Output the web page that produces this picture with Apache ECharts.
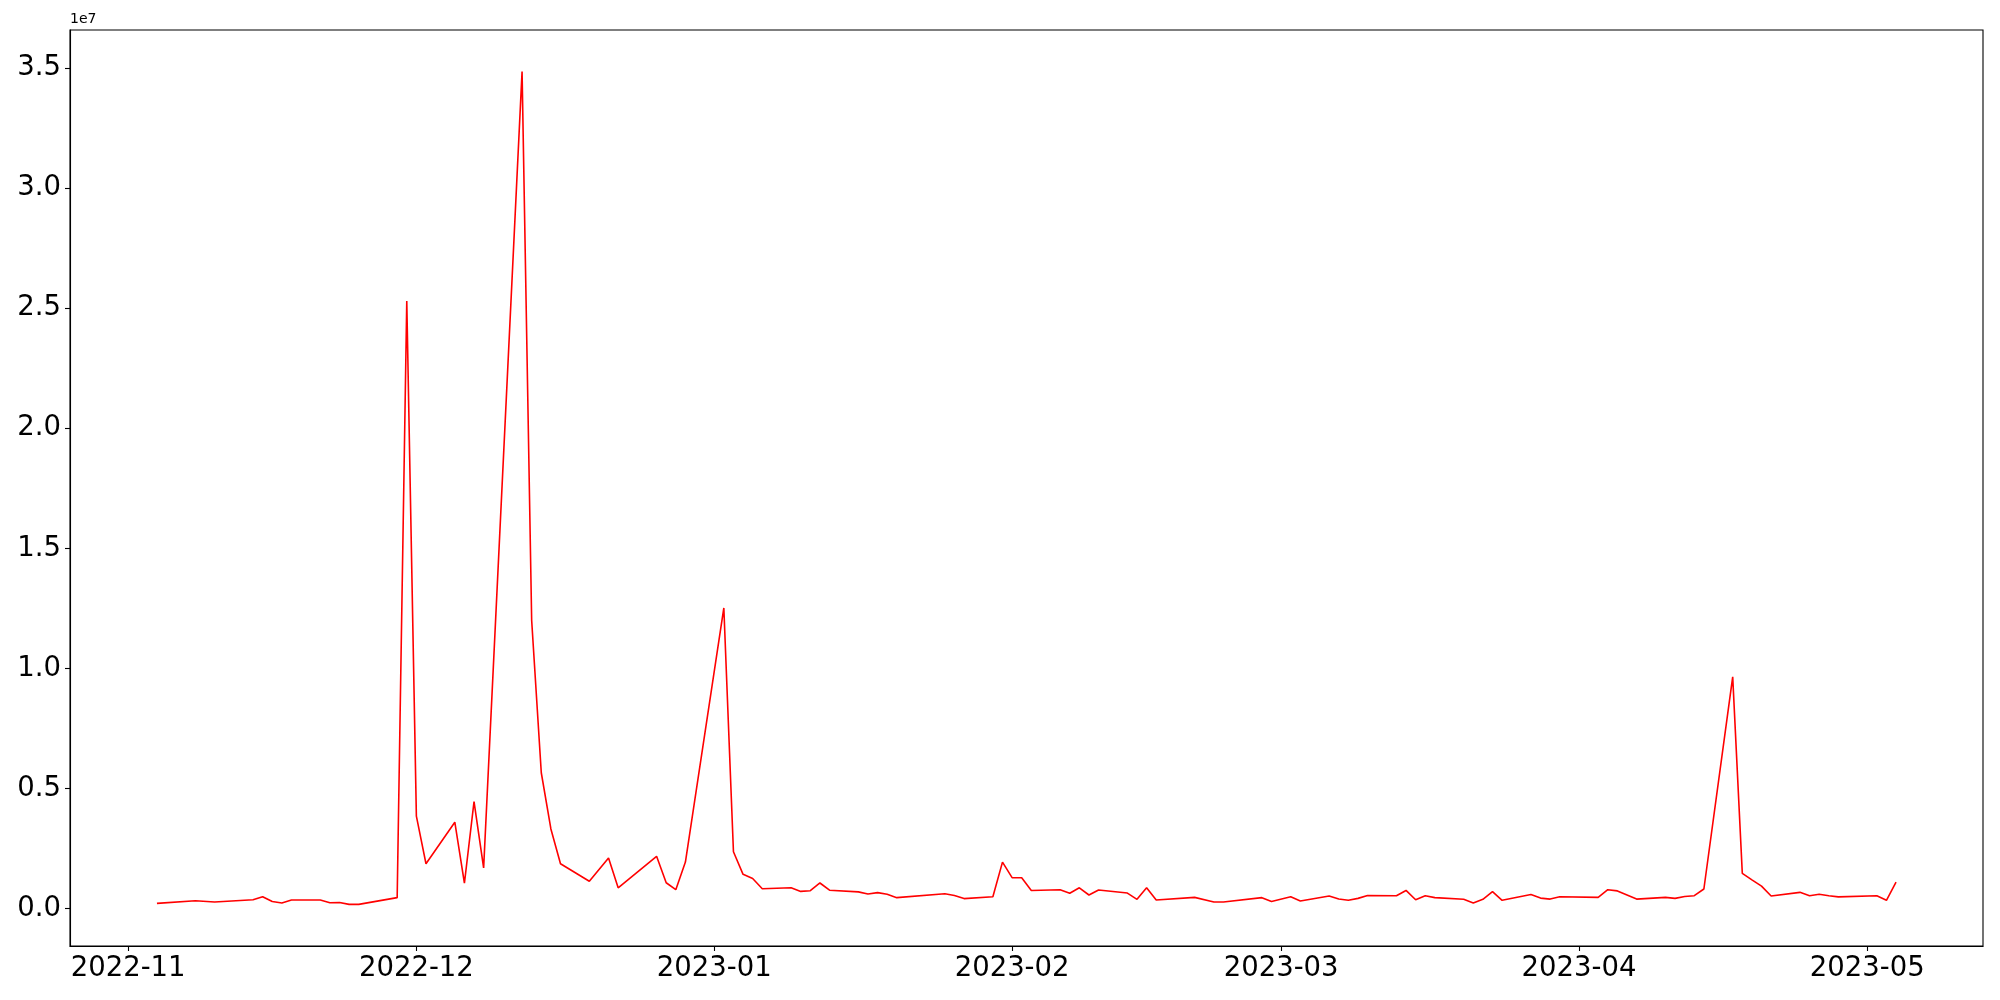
<!DOCTYPE html>
<html><head><meta charset="utf-8">
<script src="https://cdn.jsdelivr.net/npm/echarts@6/dist/echarts.min.js"></script>
<style>html,body{margin:0;padding:0;background:#fff}#c{width:2000px;height:1000px}</style>
</head><body><div id="c"></div>
<script>
const dates = [
'2022-11-04','2022-11-08','2022-11-10','2022-11-14','2022-11-15','2022-11-16','2022-11-17','2022-11-18',
'2022-11-21','2022-11-22','2022-11-23','2022-11-24','2022-11-25','2022-11-29','2022-11-30',
'2022-12-01','2022-12-02','2022-12-05','2022-12-06','2022-12-07','2022-12-08','2022-12-12','2022-12-13',
'2022-12-14','2022-12-15','2022-12-16','2022-12-19','2022-12-21','2022-12-22','2022-12-26','2022-12-27',
'2022-12-28','2022-12-29',
'2023-01-02','2023-01-03','2023-01-04','2023-01-05','2023-01-06','2023-01-09','2023-01-10','2023-01-11',
'2023-01-12','2023-01-13','2023-01-16','2023-01-17','2023-01-18','2023-01-19','2023-01-20','2023-01-25',
'2023-01-26','2023-01-27','2023-01-30','2023-01-31',
'2023-02-01','2023-02-02','2023-02-03','2023-02-06','2023-02-07','2023-02-08','2023-02-09','2023-02-10',
'2023-02-13','2023-02-14','2023-02-15','2023-02-16','2023-02-20','2023-02-22','2023-02-23','2023-02-27',
'2023-02-28',
'2023-03-02','2023-03-03','2023-03-06','2023-03-07','2023-03-08','2023-03-09','2023-03-10','2023-03-13',
'2023-03-14','2023-03-15','2023-03-16','2023-03-17','2023-03-20','2023-03-21','2023-03-22','2023-03-23',
'2023-03-24','2023-03-27','2023-03-28','2023-03-29','2023-03-30',
'2023-04-03','2023-04-04','2023-04-05','2023-04-07','2023-04-10','2023-04-11','2023-04-12','2023-04-13',
'2023-04-14','2023-04-17','2023-04-18','2023-04-19','2023-04-20','2023-04-21','2023-04-24','2023-04-25',
'2023-04-26','2023-04-27','2023-04-28',
'2023-05-02','2023-05-03','2023-05-04'
];
const values = [
220000,330000,280000,370000,500000,300000,240000,360000,
360000,250000,260000,180000,180000,460000,25300000,
3850000,1870000,3600000,1060000,4460000,1700000,34850000,12000000,
5660000,3320000,1870000,1140000,2110000,870000,2180000,1080000,
790000,1940000,
12520000,2370000,1430000,1260000,830000,870000,720000,750000,
1070000,770000,700000,610000,670000,600000,460000,620000,
550000,420000,500000,1940000,
1290000,1290000,760000,790000,640000,870000,570000,780000,
650000,390000,870000,360000,470000,280000,280000,460000,
300000,
500000,320000,530000,400000,350000,430000,550000,540000,
760000,370000,540000,460000,390000,240000,390000,710000,
350000,590000,440000,400000,500000,
470000,790000,740000,400000,470000,430000,510000,540000,
820000,9650000,1470000,1200000,940000,530000,680000,540000,
600000,540000,490000,
540000,350000,1110000
];
const xTickLabels = ['2022-11','2022-12','2023-01','2023-02','2023-03','2023-04','2023-05'];
const yTickValues = [0,5e6,1e7,1.5e7,2e7,2.5e7,3e7,3.5e7];
const yOffsetLabel = '1e7';

function ts(s){ const p=s.split('-').map(Number); return Date.UTC(p[0],p[1]-1,p[2]||1); }
const xs = dates.map(ts);
const x0=Math.min(...xs), x1=Math.max(...xs), xm=(x1-x0)*0.05;
const v0=Math.min(...values), v1=Math.max(...values), vm=(v1-v0)*0.05;
const xTickVals = xTickLabels.map(ts);
const labelMap = {}; xTickVals.forEach((v,i)=>{labelMap[v]=xTickLabels[i];});
const FONT = 'DejaVu Sans';

const chart = echarts.init(document.getElementById('c'), null, {renderer:'canvas'});
chart.setOption({
  animation:false,
  backgroundColor:'#fff',
  grid:{left:70,right:17,top:30,bottom:54,show:true,borderColor:'#000',borderWidth:1.1,backgroundColor:'transparent'},
  xAxis:{
    type:'value', min:x0-xm, max:x1+xm,
    axisLine:{show:true,onZero:false,lineStyle:{color:'#000',width:1.1}},
    axisTick:{show:true,customValues:xTickVals,length:5,lineStyle:{color:'#000',width:1.1}},
    axisLabel:{show:true,customValues:xTickVals,formatter:v=>labelMap[v]||'',fontSize:27.5,color:'#000',fontFamily:FONT,margin:9},
    splitLine:{show:false}
  },
  yAxis:{
    type:'value', min:v0-vm, max:v1+vm,
    axisLine:{show:true,onZero:false,lineStyle:{color:'#000',width:1.1}},
    axisTick:{show:true,customValues:yTickValues,length:5,lineStyle:{color:'#000',width:1.1}},
    axisLabel:{show:true,customValues:yTickValues,formatter:v=>(v/1e7).toFixed(1),fontSize:27.5,color:'#000',fontFamily:FONT,margin:9},
    splitLine:{show:false}
  },
  graphic:[{type:'text',left:70,top:12,style:{text:yOffsetLabel,font:'14px "DejaVu Sans"',fill:'#000'}}],
  series:[{
    type:'line', data:xs.map((x,i)=>[x,values[i]]), showSymbol:false, symbol:'none',
    lineStyle:{color:'#ff0000',width:1.6}, itemStyle:{color:'#ff0000'}
  }]
});
</script></body></html>
